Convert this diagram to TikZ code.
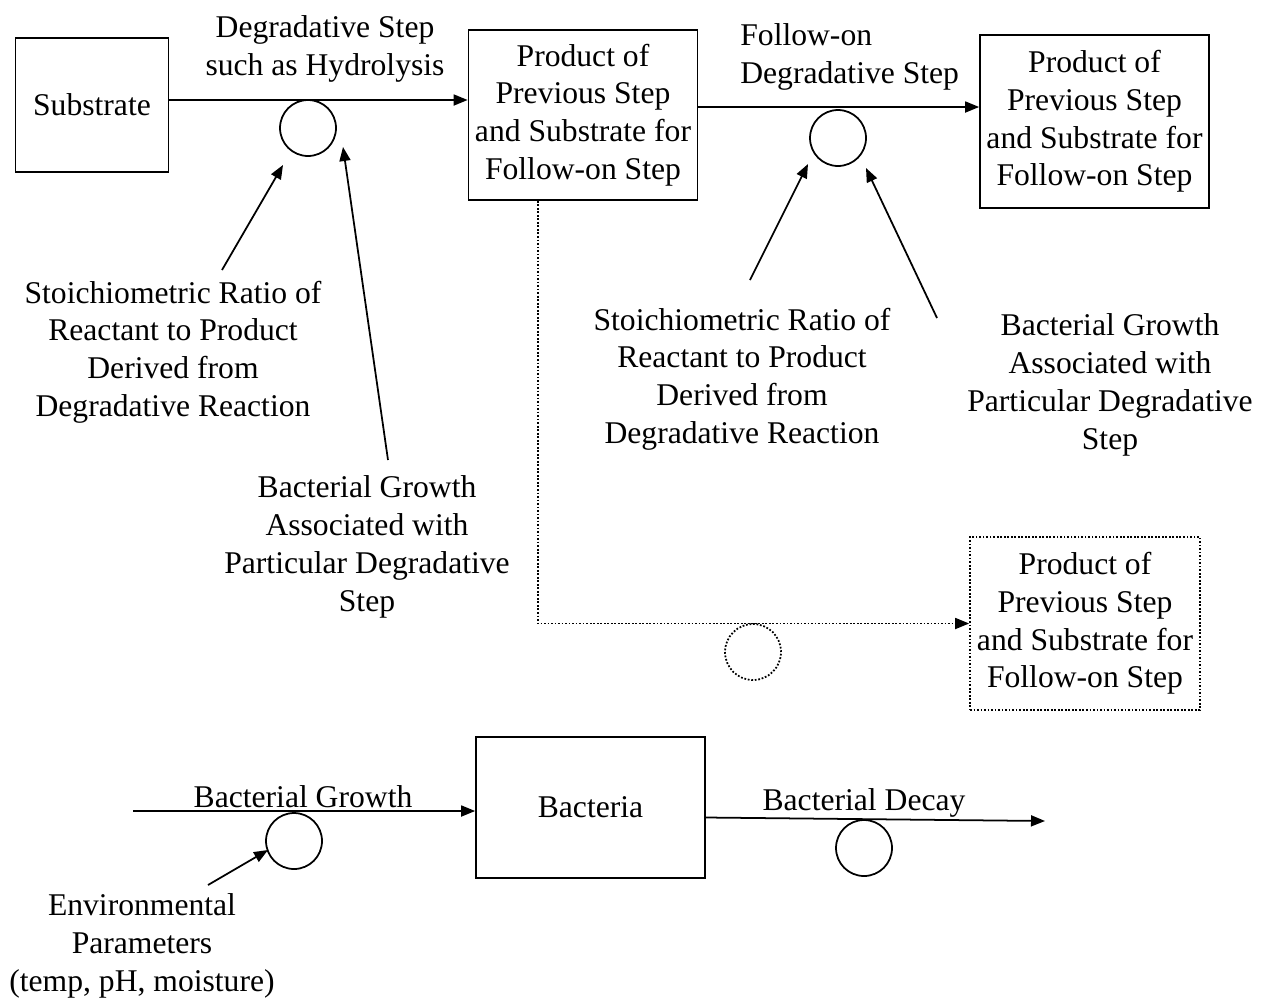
\documentclass[tikz,border=0pt]{standalone}
\usepackage{fontspec}
\setmainfont{Liberation Serif}
\usetikzlibrary{positioning,calc,arrows.meta}

\begin{document}
\begin{tikzpicture}[
            x=0.02cm, y=-0.02cm,
            every node/.style={font=\fontsize{18}{21.5}\selectfont},
            stagebox/.style={draw, line width=1pt, align=center, minimum width=4.58cm, inner sep=2pt},
            ratecircle/.style={circle, draw, line width=1pt, minimum size=1.12cm, inner sep=0pt},
            note/.style={align=center, inner sep=0pt},
            flow/.style={-{Triangle[length=0.28cm,width=0.22cm]}, line width=1pt}
        ]
            \useasboundingbox (0,0) rectangle (1267,1001);

            % Degradation chain
            \node[stagebox, minimum width=3.06cm, minimum height=2.68cm] (substrate) at (92,105) {Substrate};
            \node[stagebox, minimum height=3.4cm] (prod1) at (583,115) {Product of\\Previous Step\\and Substrate for\\Follow-on Step};
            \node[stagebox, minimum height=3.46cm] (prod2) at (1094.5,121.5) {Product of\\Previous Step\\and Substrate for\\Follow-on Step};
            \node[stagebox, densely dotted, minimum width=4.6cm, minimum height=3.46cm] (prod3) at (1085,623.5) {Product of\\Previous Step\\and Substrate for\\Follow-on Step};

            % Rate circles
            \node[ratecircle] (rate1) at (308,128) {};
            \node[ratecircle] (rate2) at (838,138) {};
            \node[ratecircle, densely dotted] (rate3) at (753,652) {};

            % Step labels
            \node[note] (hydrolysis) at (325,49) {Degradative Step\\such as Hydrolysis};
            \node[note, anchor=west, align=left] (followon) at (740,57) {Follow-on\\Degradative Step};
            \node[note] (ratio1) at (173,352) {Stoichiometric Ratio of\\Reactant to Product\\Derived from\\Degradative Reaction};
            \node[note] (growth1) at (367,547) {Bacterial Growth\\Associated with\\Particular Degradative\\Step};
            \node[note] (ratio2) at (742,379) {Stoichiometric Ratio of\\Reactant to Product\\Derived from\\Degradative Reaction};
            \node[note] (growth2) at (1110,385) {Bacterial Growth\\Associated with\\Particular Degradative\\Step};

            % Chain connections
            \draw[flow] ([yshift=0.1cm]substrate.east) -- ([yshift=0.1cm]substrate.east -| prod1.west);
            \draw[flow] ([yshift=0.16cm]prod1.east) -- ([yshift=0.16cm]prod1.east -| prod2.west);
            \draw[flow, densely dotted] ([xshift=-0.9cm]prod1.south) |- (prod3.west);

            % Influences on the rates
            \draw[flow] ($(ratio1)+(49,-82)$) -- ($(rate1)+(-25,37)$);
            \draw[flow] ($(growth1)+(21,-87)$) -- ($(rate1)+(35,19)$);
            \draw[flow] ($(ratio2)+(8,-99)$) -- ($(rate2)+(-30,26)$);
            \draw[flow] ($(growth2)+(-173,-67)$) -- ($(rate2)+(28,30)$);

            % Bacteria balance
            \coordinate (growthin) at (133,811);
            \coordinate (decayout) at (1045,821);
            \node[stagebox, minimum height=2.82cm] (bacteria) at (590.5,807.5) {Bacteria};
            \node[ratecircle] (growthrate) at (294,841) {};
            \node[ratecircle] (decayrate) at (864,848) {};
            \node[note] (growthlabel) at (303,797) {Bacterial Growth};
            \node[note] (decaylabel) at (864,803) {Bacterial Decay};
            \node[note] (envparams) at (142,946) {Environmental\\Parameters\\(temp, pH, moisture)};

            \draw[flow] (growthin) -- (growthin -| bacteria.west);
            \draw[flow] ([yshift=-0.2cm]bacteria.east) -- (decayout);
            \draw[flow] ($(envparams)+(66,-61)$) -- ($(growthrate)+(-26,9)$);
        \end{tikzpicture}
\end{document}
